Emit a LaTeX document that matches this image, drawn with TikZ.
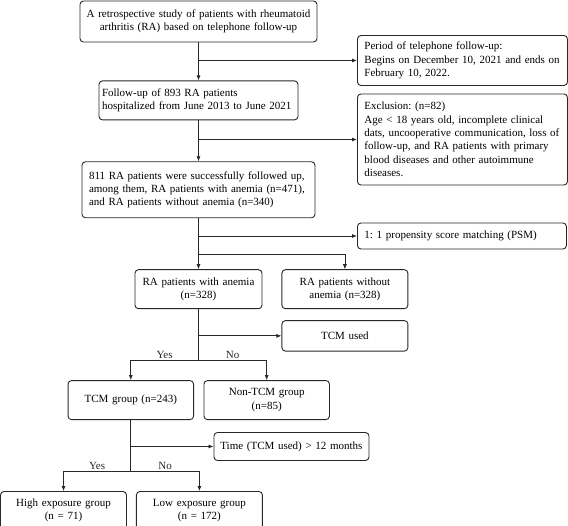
\documentclass[tikz,border=0pt]{standalone}
\usepackage{fontspec}
\setmainfont{Liberation Serif}
\usetikzlibrary{arrows.meta, positioning, calc}
\definecolor{ink}{RGB}{40,40,40}
\frenchspacing
\tikzset{
  block/.style={rectangle, rounded corners=3.5pt, draw=ink, line width=0.9pt,
                inner sep=0pt, align=center, font=\fontsize{11}{13.4}\selectfont},
  notebox/.style={block, align=left},
  link/.style={line width=0.75pt, color=ink},
  arrow/.style={link, -{Latex[length=5pt, width=4pt]}},
  branch/.style={font=\fontsize{11}{13.4}\selectfont, inner sep=1.5pt},
}

\begin{document}
\begin{tikzpicture}[x=1pt, y=1pt]
  \useasboundingbox (0,0) rectangle (568,-526);

  \node[block, minimum width=237pt, minimum height=41pt, text width=229pt] (study) at (198.5,-21.5)
    {A retrospective study of patients with rheumatoid\\arthritis (RA) based on telephone follow-up};
  \node[notebox, below=38pt of study, minimum width=199pt, minimum height=39pt, text width=193pt] (followup)
    {Follow-up of 893 RA patients\\\mbox{hospitalized from June 2013 to June 2021}};
  \node[notebox, below=41pt of followup, minimum width=233pt, minimum height=56pt, text width=219pt] (survey)
    {811 RA patients were successfully followed up,\\among them, RA patients with anemia (n=471),\\and RA patients without anemia (n=340)};

  \node[notebox, anchor=west, minimum width=210pt, minimum height=50pt, text width=196pt] (period) at (357,-60.5)
    {Period of telephone follow-up:\\Begins on December 10, 2021 and ends on\\February 10, 2022.};
  \node[notebox, anchor=west, minimum width=210pt, minimum height=91pt, text width=196pt] (exclusion) at (357,-139.5)
    {Exclusion: (n=82)\\Age < 18 years old, incomplete clinical\\dats, uncooperative communication, loss of\\follow-up, and RA patients with primary\\blood diseases and other autoimmune\\diseases.};
  \node[notebox, anchor=west, minimum width=209pt, minimum height=26pt, text width=195pt] (psm) at (357,-236)
    {1: 1 propensity score matching (PSM)};

  \node[block, below=51pt of survey, minimum width=127pt, minimum height=39pt, text width=120pt] (anemia)
    {RA patients with anemia\\(n=328)};
  \node[block, right=19pt of anemia, minimum width=126pt, minimum height=39pt, text width=120pt] (noanemia)
    {RA patients without\\anemia (n=328)};
  \node[block, below=11pt of noanemia, minimum width=126pt, minimum height=30.5pt, text width=120pt] (tcmused)
    {TCM used};

  \node[block, below=71pt of anemia, xshift=-67.7pt, minimum width=125.5pt, minimum height=39pt, text width=120pt] (tcm)
    {TCM group (n=243)};
  \node[block, right=9.5pt of tcm, minimum width=125.5pt, minimum height=39pt, text width=120pt] (nontcm)
    {Non-TCM group\\(n=85)};
  \node[block, below right=12pt and 10pt of nontcm.south west, minimum width=155pt, minimum height=28pt, text width=150pt] (longuse)
    {Time (TCM used) > 12 months};

  \node[block, below=71pt of tcm, xshift=-67.3pt, minimum width=126pt, minimum height=38pt, text width=120pt] (high)
    {High exposure group\\(n = 71)};
  \node[block, right=9pt of high, minimum width=126pt, minimum height=38pt, text width=120pt] (low)
    {Low exposure group\\(n = 172)};

  \draw[arrow] (study) -- (followup);
  \draw[arrow] (study.south |- period.west) -- (period.west);
  \draw[arrow] (followup) -- (survey);
  \draw[arrow] (followup.south |- exclusion.west) -- (exclusion.west);
  \draw[arrow] (survey) -- (anemia);
  \draw[arrow] (survey.south |- psm.west) -- (psm.west);
  \coordinate (match) at ($(survey.south)+(0,-36)$);
  \draw[arrow] (match) -| (noanemia);

  \draw[arrow] (anemia.south |- tcmused.west) -- (tcmused.west);
  \coordinate (treat) at ($(anemia.south)+(0,-51)$);
  \draw[link] (anemia) -- (treat);
  \draw[arrow] (treat) -| node[branch, pos=0.25, above] (yes1) {Yes} (tcm);
  \draw[arrow] (treat) -| node[branch, pos=0.25, above] (no1) {No} (nontcm);

  \draw[arrow] (tcm.south |- longuse.west) -- (longuse.west);
  \coordinate (dose) at ($(tcm.south)+(0,-51)$);
  \draw[link] (tcm) -- (dose);
  \draw[arrow] (dose) -| node[branch, pos=0.25, above] (yes2) {Yes} (high);
  \draw[arrow] (dose) -| node[branch, pos=0.25, above] (no2) {No} (low);
\end{tikzpicture}
\end{document}
